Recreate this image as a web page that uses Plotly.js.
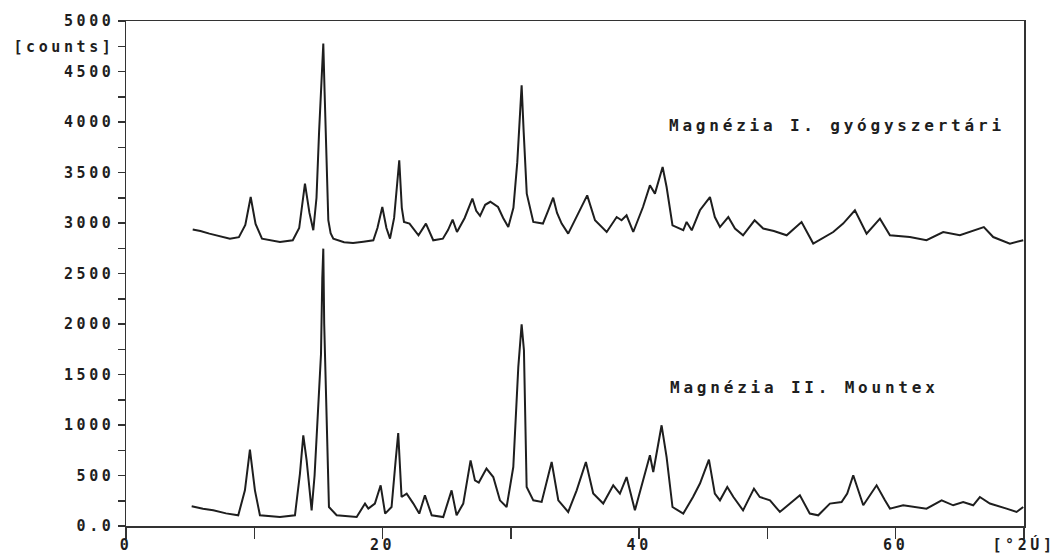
<!DOCTYPE html>
<html>
<head>
<meta charset="utf-8">
<script src="https://cdn.plot.ly/plotly-3.0.1.min.js"></script>
<style>
  html, body { margin: 0; padding: 0; background: #fff; }
  #chart { width: 1058px; height: 556px; }
  .xtick text, .ytick text { letter-spacing: 3.6px; }
  .annotation-text { letter-spacing: 3.8px; }
</style>
</head>
<body>
<div id="chart"></div>
<script>
// Series 1: Magnézia I. gyógyszertári (upper pattern)
const topAngle = [5.2,5.8,6.5,7.2,8.1,8.8,9.3,9.72,10.1,10.6,11.3,12.0,13.0,13.5,13.95,14.3,14.6,14.85,15.05,15.15,15.3,15.38,15.48,15.6,15.77,15.95,16.16,17.0,17.7,18.5,19.28,19.6,19.98,20.3,20.58,20.9,21.3,21.5,21.67,22.1,22.4,22.8,23.38,23.95,24.7,25.1,25.46,25.8,26.4,27.0,27.3,27.6,28.0,28.4,29.0,29.4,29.8,30.2,30.5,30.84,31.0,31.24,31.75,32.5,32.9,33.3,33.6,33.96,34.47,35.25,35.95,36.56,37.47,38.25,38.63,39.02,39.54,40.3,40.84,41.23,41.83,42.14,42.6,43.44,43.7,44.1,44.74,45.52,45.9,46.3,46.95,47.47,48.1,49.0,49.67,50.5,51.5,52.66,53.57,55.13,55.9,56.82,57.73,58.77,59.55,61.1,62.4,63.7,65.0,66.87,67.6,68.9,69.94];
const topCounts = [2935,2920,2895,2870,2845,2860,2980,3257,2990,2845,2825,2812,2829,2950,3390,3100,2928,3250,3900,4200,4600,4776,4300,3700,3027,2900,2845,2810,2802,2815,2829,2950,3158,2950,2845,3050,3621,3150,3010,2994,2940,2878,2994,2829,2845,2930,3034,2911,3050,3242,3120,3070,3180,3210,3158,3050,2960,3150,3600,4363,3900,3291,3010,2994,3120,3251,3100,2994,2895,3093,3274,3027,2911,3059,3027,3076,2911,3158,3373,3291,3554,3356,2977,2928,3010,2928,3126,3257,3059,2960,3059,2945,2878,3027,2945,2920,2878,3010,2796,2911,2994,3126,2895,3043,2878,2861,2829,2911,2878,2960,2861,2796,2829];

// Series 2: Magnézia II. Mountex (lower pattern)
const botAngle = [5.12,6.0,6.8,7.8,8.75,9.27,9.66,10.05,10.44,11.2,12.0,13.17,13.56,13.82,14.08,14.47,14.7,14.9,15.2,15.3,15.38,15.45,15.56,15.7,15.82,16.42,17.2,17.98,18.63,18.89,19.4,19.85,20.2,20.7,21.02,21.22,21.48,21.88,22.4,22.86,23.3,23.83,24.73,25.38,25.77,26.29,26.86,27.2,27.5,28.1,28.63,29.15,29.67,30.19,30.58,30.84,31.02,31.23,31.75,32.4,33.18,33.7,34.47,35.13,35.85,36.42,37.2,37.98,38.5,39.02,39.67,40.32,40.84,41.1,41.75,42.14,42.6,43.44,44.2,44.74,45.44,45.9,46.3,46.87,47.35,48.1,48.95,49.4,50.2,50.97,52.53,53.3,53.96,54.87,55.78,56.22,56.69,57.47,58.51,59.16,59.55,60.58,61.62,62.4,63.58,64.48,65.26,66.04,66.56,67.34,68.64,69.42,69.94];
const botCounts = [195,170,155,125,106,353,756,353,106,95,89,106,519,898,650,155,500,980,1700,2450,2746,2000,1509,700,188,106,95,89,222,172,222,403,123,188,650,921,287,321,222,123,304,106,89,353,106,222,650,452,430,568,485,254,188,584,1574,1997,1740,386,254,238,634,254,139,353,634,321,222,403,321,485,155,452,700,535,997,683,188,123,287,420,657,321,254,386,287,155,370,287,254,139,304,123,106,222,238,321,502,205,403,254,172,205,188,172,254,205,238,205,287,222,172,139,188];

// Axis ticks and labels
const xTickVals = [0,10,20,30,40,50,60,70];
const xTickText = ['0','','20','','40','','60','[°2Ú]'];
const yTickVals = [0,250,500,750,1000,1250,1500,1750,2000,2250,2500,2750,3000,3250,3500,3750,4000,4250,4500,4750,5000];
const yTickText = ['0.0','','500','','1000','','1500','','2000','','2500','','3000','','3500','','4000','','4500','[counts]','5000'];

const seriesNames = ['Magnézia I. gyógyszertári','Magnézia II. Mountex'];
const labelPos = [[42.17, 3967], [42.24, 1373]];

const fontFam = '"DejaVu Sans Mono", "Liberation Mono", monospace';
const ink = '#1e1e1e';

const traces = [
  {x: topAngle, y: topCounts, type: 'scatter', mode: 'lines', name: seriesNames[0],
   line: {color: ink, width: 2}},
  {x: botAngle, y: botCounts, type: 'scatter', mode: 'lines', name: seriesNames[1],
   line: {color: ink, width: 2}}
];

const layout = {
  width: 1058, height: 556,
  margin: {l: 126, r: 34, t: 21, b: 30, pad: 0},
  paper_bgcolor: '#fff', plot_bgcolor: '#fff',
  showlegend: false,
  font: {family: fontFam, color: ink, size: 15, weight: 'bold'},
  xaxis: {
    range: [0, 70], tickmode: 'array', tickvals: xTickVals, ticktext: xTickText,
    ticks: 'outside', ticklen: 11, tickwidth: 1.5, tickcolor: '#333',
    ticklabelstandoff: -7,
    showline: true, linecolor: '#333', linewidth: 1.5, mirror: true,
    showgrid: false, zeroline: false,
    tickfont: {family: fontFam, size: 15, color: ink, weight: 'bold'}
  },
  yaxis: {
    range: [0, 5000], tickmode: 'array', tickvals: yTickVals, ticktext: yTickText,
    ticks: 'outside', ticklen: 7, tickwidth: 1.5, tickcolor: '#333',
    showline: true, linecolor: '#333', linewidth: 1.5, mirror: true,
    showgrid: false, zeroline: false,
    tickfont: {family: fontFam, size: 15, color: ink, weight: 'bold'}
  },
  annotations: seriesNames.map((t, i) => ({
    x: labelPos[i][0], y: labelPos[i][1], xref: 'x', yref: 'y',
    text: t, showarrow: false, xanchor: 'left', yanchor: 'middle',
    font: {family: fontFam, size: 16, color: ink, weight: 'bold'}
  }))
};

Plotly.newPlot('chart', traces, layout, {displayModeBar: false, staticPlot: true});
</script>
</body>
</html>
